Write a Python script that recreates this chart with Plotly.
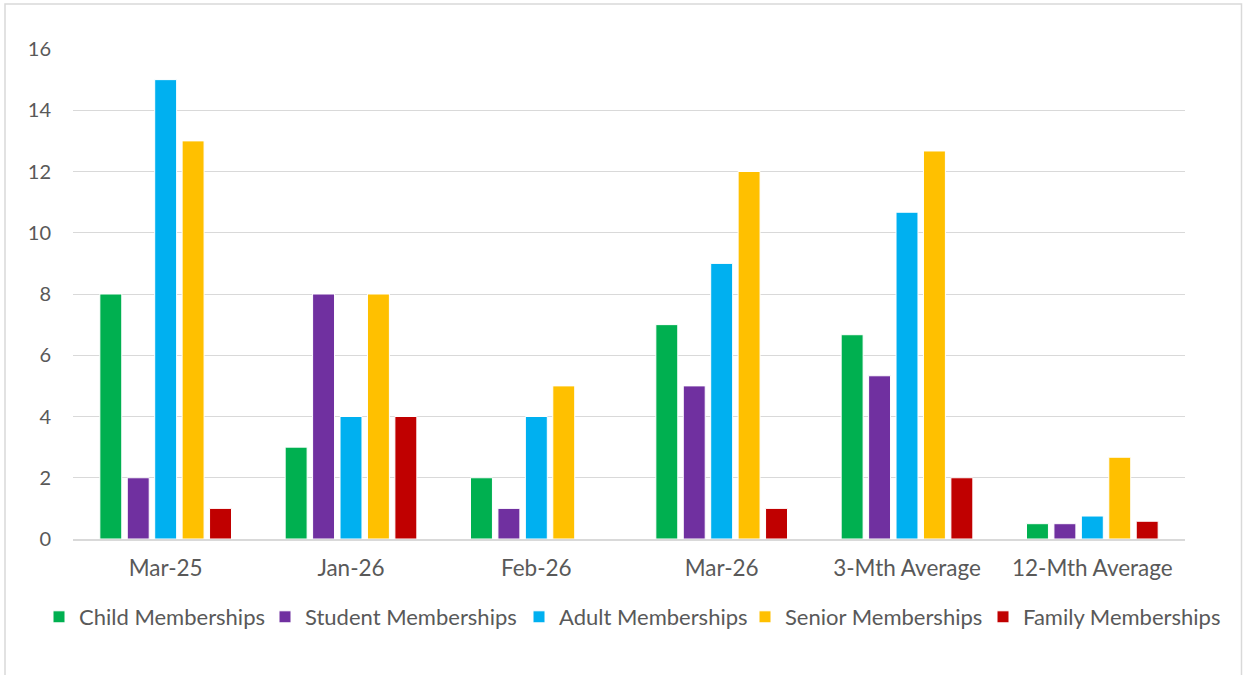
import plotly.graph_objects as go

categories = ["Mar-25", "Jan-26", "Feb-26", "Mar-26", "3-Mth Average", "12-Mth Average"]
child = [8, 3, 2, 7, 6.67, 0.5]
student = [2, 8, 1, 5, 5.33, 0.5]
adult = [15, 4, 4, 9, 10.67, 0.75]
senior = [13, 8, 5, 12, 12.67, 2.67]
family = [1, 4, 0, 1, 2, 0.58]

series_names = ["Child Memberships", "Student Memberships", "Adult Memberships",
                "Senior Memberships", "Family Memberships"]
series_values = [child, student, adult, senior, family]
series_colors = ["#00B050", "#7030A0", "#00B0F0", "#FFC000", "#C00000"]
# legend symbol centre (px) for each entry
legend_centres = [61, 287, 541, 767, 1005]

font_family = "Lato, 'Open Sans', sans-serif"
txt = "#595959"

L, R, T, B = 73, 58, 49, 136
W, H = 1243, 675
pw = W - L - R
ph = H - T - B

fig = go.Figure()
legend_layouts = {}
for i, (name, vals, col) in enumerate(zip(series_names, series_values, series_colors)):
    lname = "legend" if i == 0 else f"legend{i + 1}"
    fig.add_trace(go.Bar(
        x=categories, y=vals, name=name, legend=lname,
        marker=dict(color=col, line=dict(color="white", width=1)),
    ))
    legend_layouts[lname] = dict(
        orientation="h", xref="container", yref="container",
        x=(legend_centres[i] - 22) / W, xanchor="left",
        y=(H - 617) / H, yanchor="middle",
        font=dict(size=22, color=txt), itemwidth=30,
        itemclick=False, bgcolor="rgba(0,0,0,0)",
    )

fig.update_layout(
    width=W, height=H,
    margin=dict(l=L, r=R, t=T, b=B),
    paper_bgcolor="white", plot_bgcolor="white",
    barmode="group", bargap=0.26, bargroupgap=0.2,
    font=dict(family=font_family, size=20, color=txt),
    showlegend=True,
    xaxis=dict(showline=True, linecolor="#d9d9d9", linewidth=1.5, ticks="",
               tickfont=dict(size=22.5, color=txt), showgrid=False,
               ticklabelstandoff=8),
    yaxis=dict(range=[0, 16], dtick=2, tick0=0, showgrid=True, gridcolor="#d9d9d9",
               gridwidth=1.3, zeroline=False, showline=False, ticks="",
               tickfont=dict(size=20, color=txt), ticklabelstandoff=21),
    shapes=[dict(type="rect", xref="paper", yref="paper",
                 x0=(5 - L) / pw, x1=(1241.5 - L) / pw,
                 y0=(H - B - 700) / ph, y1=(H - B - 4) / ph,
                 line=dict(color="#d9d9d9", width=1.5), fillcolor="rgba(0,0,0,0)",
                 layer="below")],
    **legend_layouts,
)

fig.write_html("out.html", config={"displayModeBar": False},
               post_script="document.body.style.margin='0';")
